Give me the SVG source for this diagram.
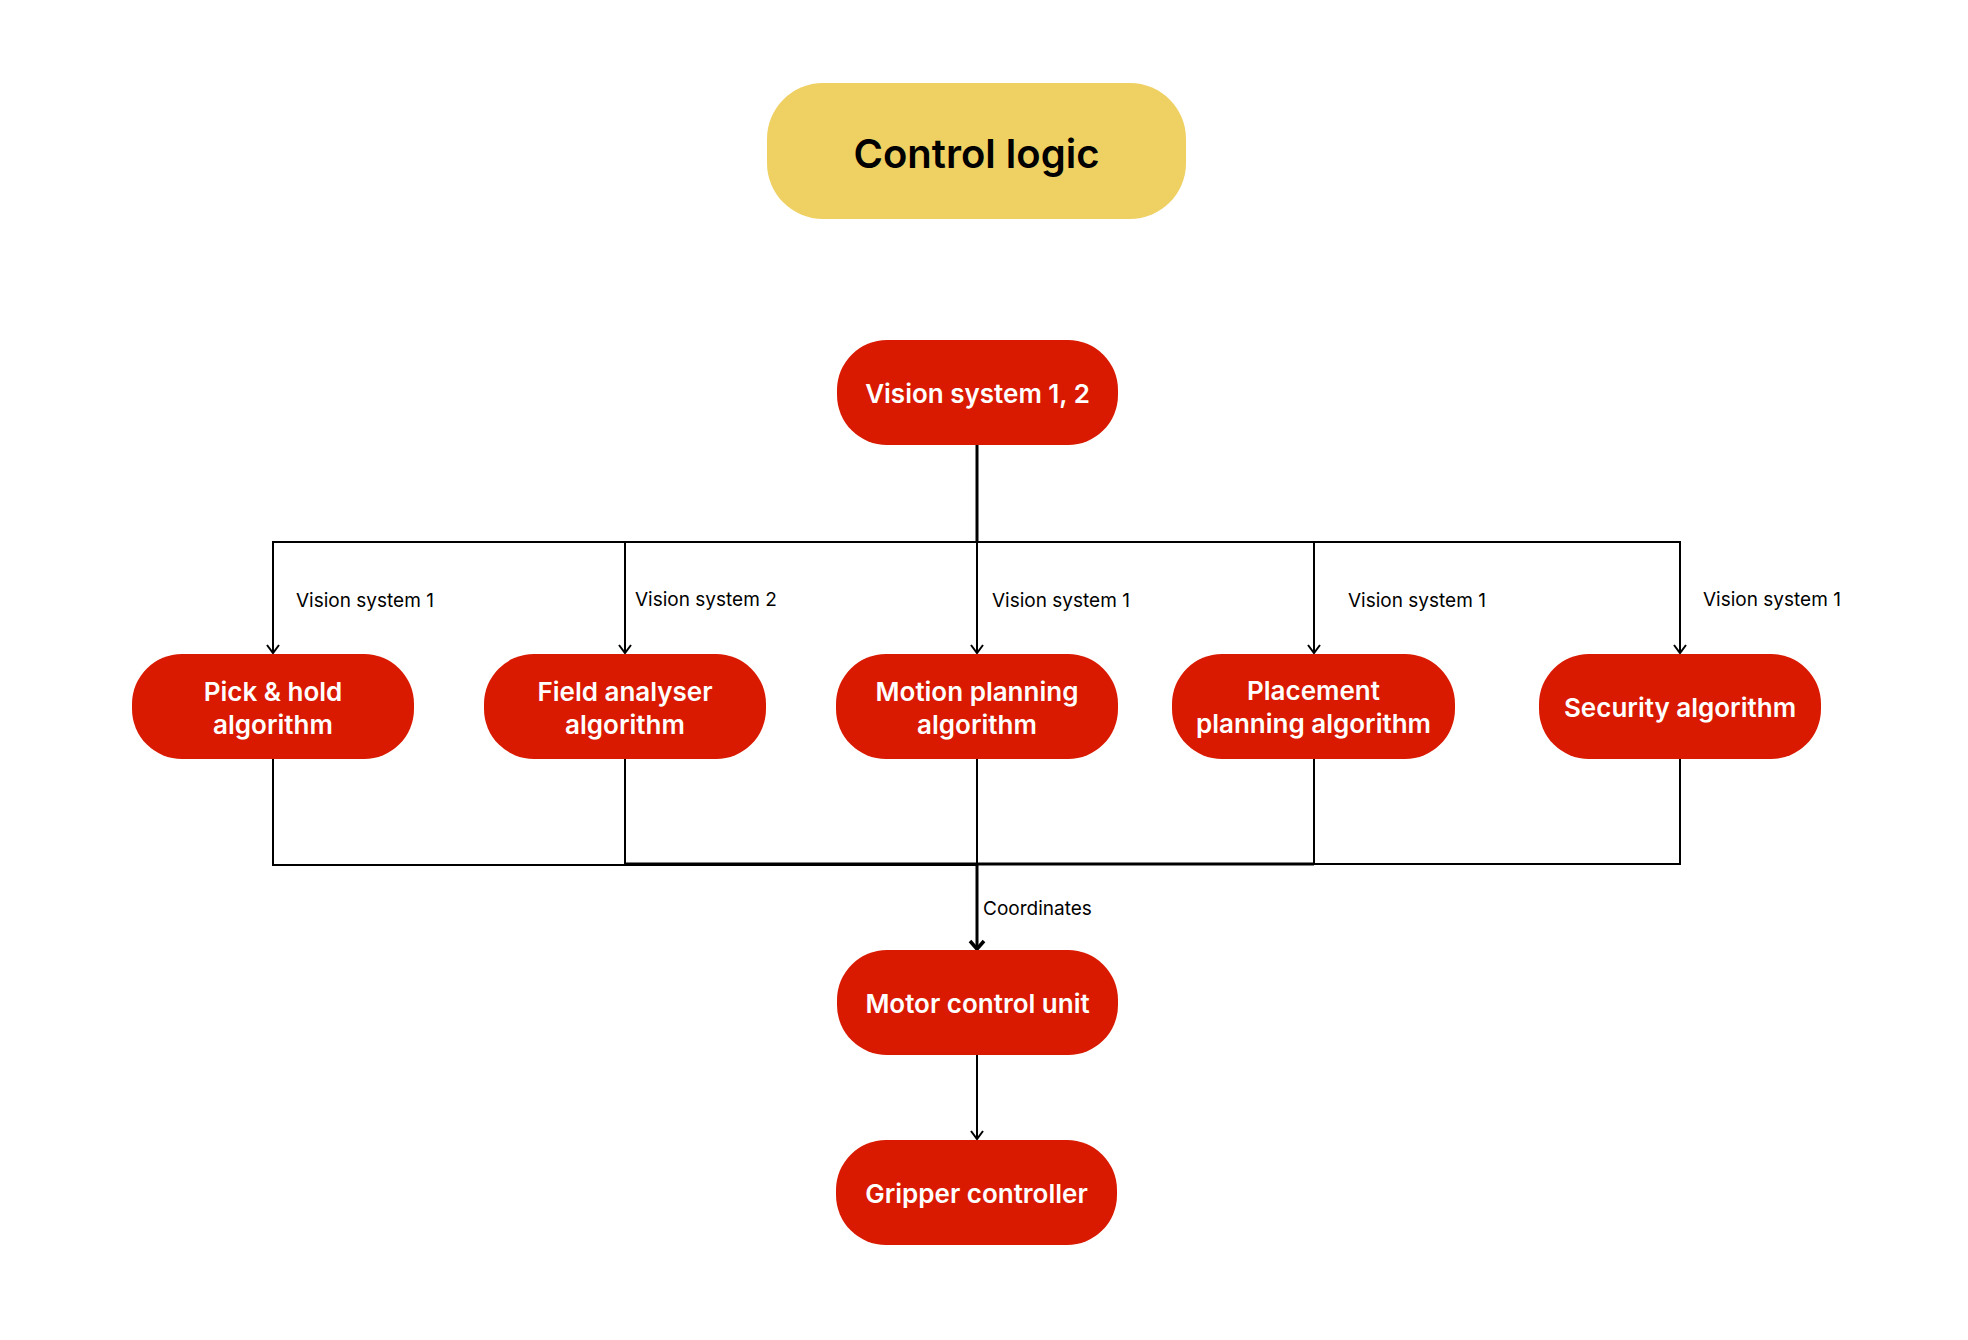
<svg xmlns="http://www.w3.org/2000/svg" width="1968" height="1340" viewBox="0 0 1968 1340">
<style>
.node{fill:#D91A00}
.title{fill:#EFD062}
.nt{font-family:Inter,"Noto Sans","Liberation Sans",sans-serif;font-weight:600;font-size:26px;fill:#fff;text-anchor:middle}
.tt{font-family:Inter,"Noto Sans","Liberation Sans",sans-serif;font-weight:600;font-size:40px;fill:#000;text-anchor:middle}
.lbl{font-family:Inter,"Noto Sans","Liberation Sans",sans-serif;font-size:19px;fill:#000}
.c{fill:none;stroke:#000;stroke-width:2}
.ct{fill:none;stroke:#000;stroke-width:3}
</style>
<defs>
<marker id="arr" markerUnits="userSpaceOnUse" markerWidth="20" markerHeight="20" refX="10" refY="10" orient="auto" overflow="visible">
<path d="M2,4 L10,10 L2,16" fill="none" stroke="#000" stroke-width="2"/>
</marker>
<marker id="arrb" markerUnits="userSpaceOnUse" markerWidth="20" markerHeight="20" refX="10" refY="10" orient="auto" overflow="visible">
<path d="M2,3 L10,10 L2,17" fill="none" stroke="#000" stroke-width="3.5"/>
</marker>
</defs>
<rect width="1968" height="1340" fill="#fff"/>
<g id="connectors">
<path class="ct" d="M977,445 V542"/>
<path class="c" d="M977,445 V542 H273 V653" marker-end="url(#arr)"/>
<path class="c" d="M977,445 V542 H625 V653" marker-end="url(#arr)"/>
<path class="c" d="M977,445 V653" marker-end="url(#arr)"/>
<path class="c" d="M977,445 V542 H1314 V653" marker-end="url(#arr)"/>
<path class="c" d="M977,445 V542 H1680 V653" marker-end="url(#arr)"/>
<path class="c" d="M273,759 V865 H977 V949"/>
<path class="c" d="M625,759 V864 H977 V949"/>
<path class="c" d="M977,759 V949"/>
<path class="c" d="M1314,759 V864 H977 V949"/>
<path class="c" d="M1680,759 V864 H977 V949"/>
<path class="ct" d="M625,864 H1314"/>
<path class="ct" d="M977,864 V949" marker-end="url(#arrb)"/>
<path class="c" d="M977,1055 V1139" marker-end="url(#arr)"/>
<text class="lbl" x="296" y="607">Vision system 1</text>
<text class="lbl" x="635" y="606">Vision system 2</text>
<text class="lbl" x="992" y="607">Vision system 1</text>
<text class="lbl" x="1348" y="607">Vision system 1</text>
<text class="lbl" x="1703" y="606">Vision system 1</text>
<text class="lbl" x="983" y="915">Coordinates</text>
</g>
<g id="control-logic">
<rect class="title" x="767" y="83" width="419" height="136" rx="56"/>
<text class="tt" x="976.5" y="168">Control logic</text>
</g>
<g id="vision-system">
<rect class="node" x="837" y="340" width="281" height="105" rx="50"/>
<text class="nt" x="977.5" y="403">Vision system 1, 2</text>
</g>
<g id="pick-hold">
<rect class="node" x="132" y="654" width="282" height="105" rx="50"/>
<text class="nt" x="273" y="701">Pick &amp; hold</text>
<text class="nt" x="273" y="734">algorithm</text>
</g>
<g id="field-analyser">
<rect class="node" x="484" y="654" width="282" height="105" rx="50"/>
<text class="nt" x="625" y="701">Field analyser</text>
<text class="nt" x="625" y="734">algorithm</text>
</g>
<g id="motion-planning">
<rect class="node" x="836" y="654" width="282" height="105" rx="50"/>
<text class="nt" x="977" y="701">Motion planning</text>
<text class="nt" x="977" y="734">algorithm</text>
</g>
<g id="placement-planning">
<rect class="node" x="1172" y="654" width="283" height="105" rx="50"/>
<text class="nt" x="1313.5" y="700">Placement</text>
<text class="nt" x="1313.5" y="733">planning algorithm</text>
</g>
<g id="security">
<rect class="node" x="1539" y="654" width="282" height="105" rx="50"/>
<text class="nt" x="1680" y="717">Security algorithm</text>
</g>
<g id="motor-control">
<rect class="node" x="837" y="950" width="281" height="105" rx="50"/>
<text class="nt" x="977.5" y="1013">Motor control unit</text>
</g>
<g id="gripper-controller">
<rect class="node" x="836" y="1140" width="281" height="105" rx="50"/>
<text class="nt" x="976.5" y="1203">Gripper controller</text>
</g>
</svg>
